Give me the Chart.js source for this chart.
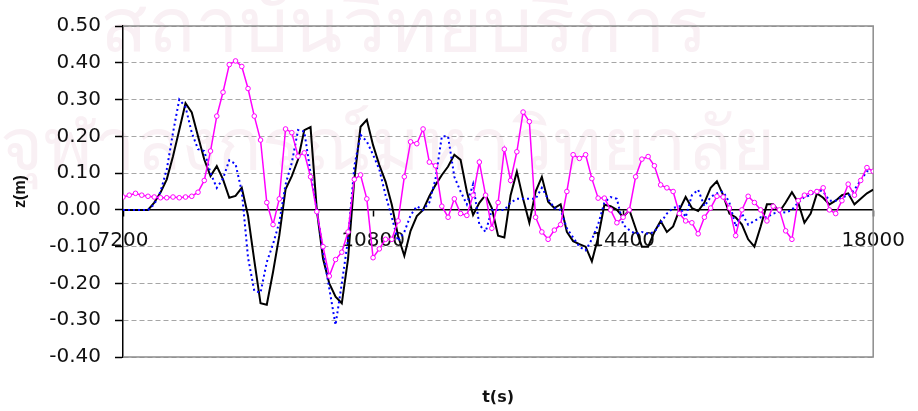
<!DOCTYPE html>
<html>
<head>
<meta charset="utf-8">
<title>z(m) vs t(s)</title>
<script src="https://cdn.jsdelivr.net/npm/chart.js@4.4.1/dist/chart.umd.min.js"></script>
<style>
  html, body { margin: 0; padding: 0; background: #fff; }
  #wrap { width: 918px; height: 411px; }
</style>
</head>
<body>
<div id="wrap"><canvas id="waveChart" width="918" height="411"></canvas></div>
<script>
// sample times, every 90 s from 7200 to 18000
const times = Array.from({ length: 121 }, (_, i) => 7200 + 90 * i);
const xTicks = [7200, 10800, 14400, 18000];

// black solid line
const blackZ = [
  0, 0, 0, 0, 0, 0.02, 0.047, 0.083, 0.146, 0.217, 0.29, 0.265, 0.2, 0.137, 0.092, 0.119, 0.083, 0.033, 0.038, 0.06,
  -0.016, -0.137, -0.254, -0.258, -0.169, -0.07, 0.056, 0.092, 0.137, 0.217, 0.225, 0, -0.133, -0.2, -0.236, -0.254, -0.133, 0.083, 0.226, 0.245,
  0.176, 0.122, 0.077, 0.014, -0.071, -0.125, -0.057, -0.017, 0, 0.037, 0.068, 0.095, 0.118, 0.15, 0.136, 0.05, -0.014, 0.019, 0.041, 0.005,
  -0.07, -0.075, 0.04, 0.104, 0.03, -0.035, 0.05, 0.09, 0.022, 0.005, 0.015, -0.06, -0.085, -0.093, -0.1, -0.14, -0.075, 0.014, 0.01, 0,
  -0.02, 0, -0.05, -0.1, -0.1, -0.06, -0.03, -0.06, -0.045, 0, 0.035, 0.005, -0.003, 0.02, 0.06, 0.078, 0.04, -0.01, -0.02, -0.04,
  -0.08, -0.1, -0.045, 0.015, 0.015, -0.005, 0.02, 0.048, 0.02, -0.035, -0.01, 0.045, 0.033, 0.015, 0.025, 0.04, 0.045, 0.015, 0.03, 0.045,
  0.055
];

// blue dotted line
const blueZ = [
  0, 0, 0, 0, 0, 0.015, 0.05, 0.11, 0.21, 0.3, 0.28, 0.21, 0.165, 0.16, 0.1, 0.06, 0.085, 0.135, 0.125, 0.05,
  -0.13, -0.22, -0.225, -0.142, -0.093, -0.034, 0.069, 0.128, 0.217, 0.213, 0.1, 0, -0.115, -0.214, -0.313, -0.2, -0.08, 0.119, 0.204, 0.186,
  0.15, 0.11, 0.04, -0.02, -0.085, -0.06, -0.015, 0.01, 0, 0.02, 0.085, 0.2, 0.2, 0.09, 0.05, 0.015, 0.07, -0.04, -0.06, 0,
  0, 0, 0.02, 0.03, 0.03, 0.03, 0.03, 0.06, 0.03, 0.005, 0, -0.05, -0.075, -0.1, -0.11, -0.08, -0.04, 0.02, 0.035, 0.03,
  -0.04, -0.055, -0.065, -0.06, -0.065, -0.06, -0.035, -0.01, 0.005, 0.01, -0.02, 0.04, 0.055, 0.01, 0.035, 0.045, 0.05, 0.02, -0.045, -0.01,
  -0.04, -0.03, -0.02, -0.02, -0.01, -0.005, -0.007, 0, 0.02, 0.035, 0.04, 0.055, 0.05, 0.025, 0.025, 0.035, 0.038, 0.055, 0.08, 0.105,
  0.105
];

// magenta line with open circles
const magentaZ = [
  0.035, 0.04, 0.045, 0.04, 0.037, 0.035, 0.033, 0.033, 0.035, 0.033, 0.035, 0.037, 0.048, 0.08, 0.16, 0.255, 0.32, 0.395, 0.405, 0.39,
  0.33, 0.255, 0.19, 0.02, -0.04, 0.03, 0.22, 0.21, 0.146, 0.155, 0.09, -0.005, -0.1, -0.18, -0.135, -0.115, -0.06, 0.083, 0.095, 0.03,
  -0.13, -0.106, -0.08, -0.08, -0.03, 0.09, 0.185, 0.18, 0.22, 0.13, 0.12, 0.01, -0.02, 0.03, -0.01, -0.015, 0.04, 0.13, 0.04, -0.05,
  0.02, 0.165, 0.08, 0.158, 0.266, 0.24, -0.02, -0.06, -0.08, -0.055, -0.04, 0.05, 0.15, 0.14, 0.15, 0.085, 0.032, 0.032, 0, -0.035,
  -0.02, 0, 0.09, 0.138, 0.145, 0.12, 0.068, 0.06, 0.05, -0.01, -0.03, -0.035, -0.065, -0.02, 0.005, 0.037, 0.035, 0.005, -0.07, 0,
  0.037, 0.02, 0, -0.03, 0.01, 0, -0.057, -0.08, 0.025, 0.04, 0.047, 0.05, 0.06, 0, -0.01, 0.025, 0.07, 0.04, 0.08, 0.115,
  0.105
];

const yMin = -0.4, yMax = 0.5, yStep = 0.1;

function pts(values) {
  return times.map((t, i) => ({ x: t, y: values[i] }));
}

// faint watermark behind the plot and grey frame round the plot area
const backdrop = {
  id: 'backdrop',
  beforeDraw(chart) {
    const c = chart.ctx;
    c.save();
    c.fillStyle = '#f9f0f4';
    c.textBaseline = 'alphabetic';
    c.font = '78px "Noto Sans", "DejaVu Sans", sans-serif';
    c.fillText('สถาบันวิทยบริการ', 100, 52);
    c.font = '74px "Noto Sans", "DejaVu Sans", sans-serif';
    c.fillText('จุฬาลงกรณ์มหาวิทยาลัย', 0, 170);
    c.restore();
  },
  beforeDatasetsDraw(chart) {
    const a = chart.chartArea;
    const c = chart.ctx;
    c.save();
    c.strokeStyle = '#8c8c8c';
    c.lineWidth = 1.5;
    c.beginPath();
    c.moveTo(a.left, a.top);
    c.lineTo(a.right, a.top);
    c.lineTo(a.right, a.bottom);
    c.lineTo(a.left, a.bottom);
    c.stroke();
    c.restore();
  }
};

const ctx = document.getElementById('waveChart').getContext('2d');
const waveChart = new Chart(ctx, {
  type: 'line',
  data: {
    datasets: [
      {
        label: 'magenta',
        data: pts(magentaZ),
        borderColor: '#ff00ff',
        borderWidth: 1.5,
        pointRadius: 2.3,
        pointBorderWidth: 1,
        pointBorderColor: '#ff00ff',
        pointBackgroundColor: '#ffffff',
        tension: 0
      },
      {
        label: 'blue',
        data: pts(blueZ),
        borderColor: '#0000ff',
        borderWidth: 2,
        borderDash: [2, 3],
        pointRadius: 0,
        tension: 0
      },
      {
        label: 'black',
        data: pts(blackZ),
        borderColor: '#000000',
        borderWidth: 2,
        pointRadius: 0,
        tension: 0
      }
    ]
  },
  options: {
    responsive: false,
    animation: false,
    events: [],
    layout: { padding: { left: 0, top: 23, right: 38, bottom: 0 } },
    plugins: {
      legend: { display: false },
      tooltip: { enabled: false }
    },
    scales: {
      x: {
        type: 'linear',
        position: { y: 0 },
        min: 7200,
        max: 18000,
        afterBuildTicks: (scale) => { scale.ticks = xTicks.map(v => ({ value: v })); },
        ticks: {
          color: '#111',
          font: { family: '"DejaVu Sans"', size: 20 },
          padding: 13,
          maxRotation: 0,
          autoSkip: false,
          callback: (v) => String(v)
        },
        grid: { drawOnChartArea: false, tickLength: 6, tickColor: '#000', tickWidth: 1.5 },
        border: { color: '#000', width: 1.5 }
      },
      x2: {
        type: 'linear',
        position: 'bottom',
        min: 7200,
        max: 18000,
        ticks: { display: false },
        grid: { display: false },
        border: { display: false },
        title: {
          display: true,
          text: 't(s)',
          color: '#111',
          font: { family: '"DejaVu Sans"', size: 16, weight: 'bold' },
          padding: { top: 0, bottom: 4 }
        },
        afterFit: (scale) => { scale.height = 54; }
      },
      y: {
        type: 'linear',
        position: 'left',
        min: yMin,
        max: yMax,
        ticks: {
          stepSize: yStep,
          color: '#111',
          font: { family: '"DejaVu Sans"', size: 20 },
          padding: 14,
          callback: (v) => Number(v).toFixed(2)
        },
        grid: {
          color: (c) => (Math.abs(c.tick.value) < 1e-9 ? 'rgba(0,0,0,0)' : '#a6a6a6'),
          lineWidth: 1,
          tickLength: 8,
          tickColor: '#000',
          tickWidth: 1.5
        },
        border: { color: '#000', width: 1.5, dash: [5, 3] },
        title: {
          display: true,
          text: 'z(m)',
          color: '#111',
          font: { family: '"Liberation Sans"', size: 16, weight: 'bold' },
          padding: { top: 11, bottom: 0 }
        },
        afterFit: (scale) => { scale.width = 123; }
      }
    }
  },
  plugins: [backdrop]
});
</script>
</body>
</html>
